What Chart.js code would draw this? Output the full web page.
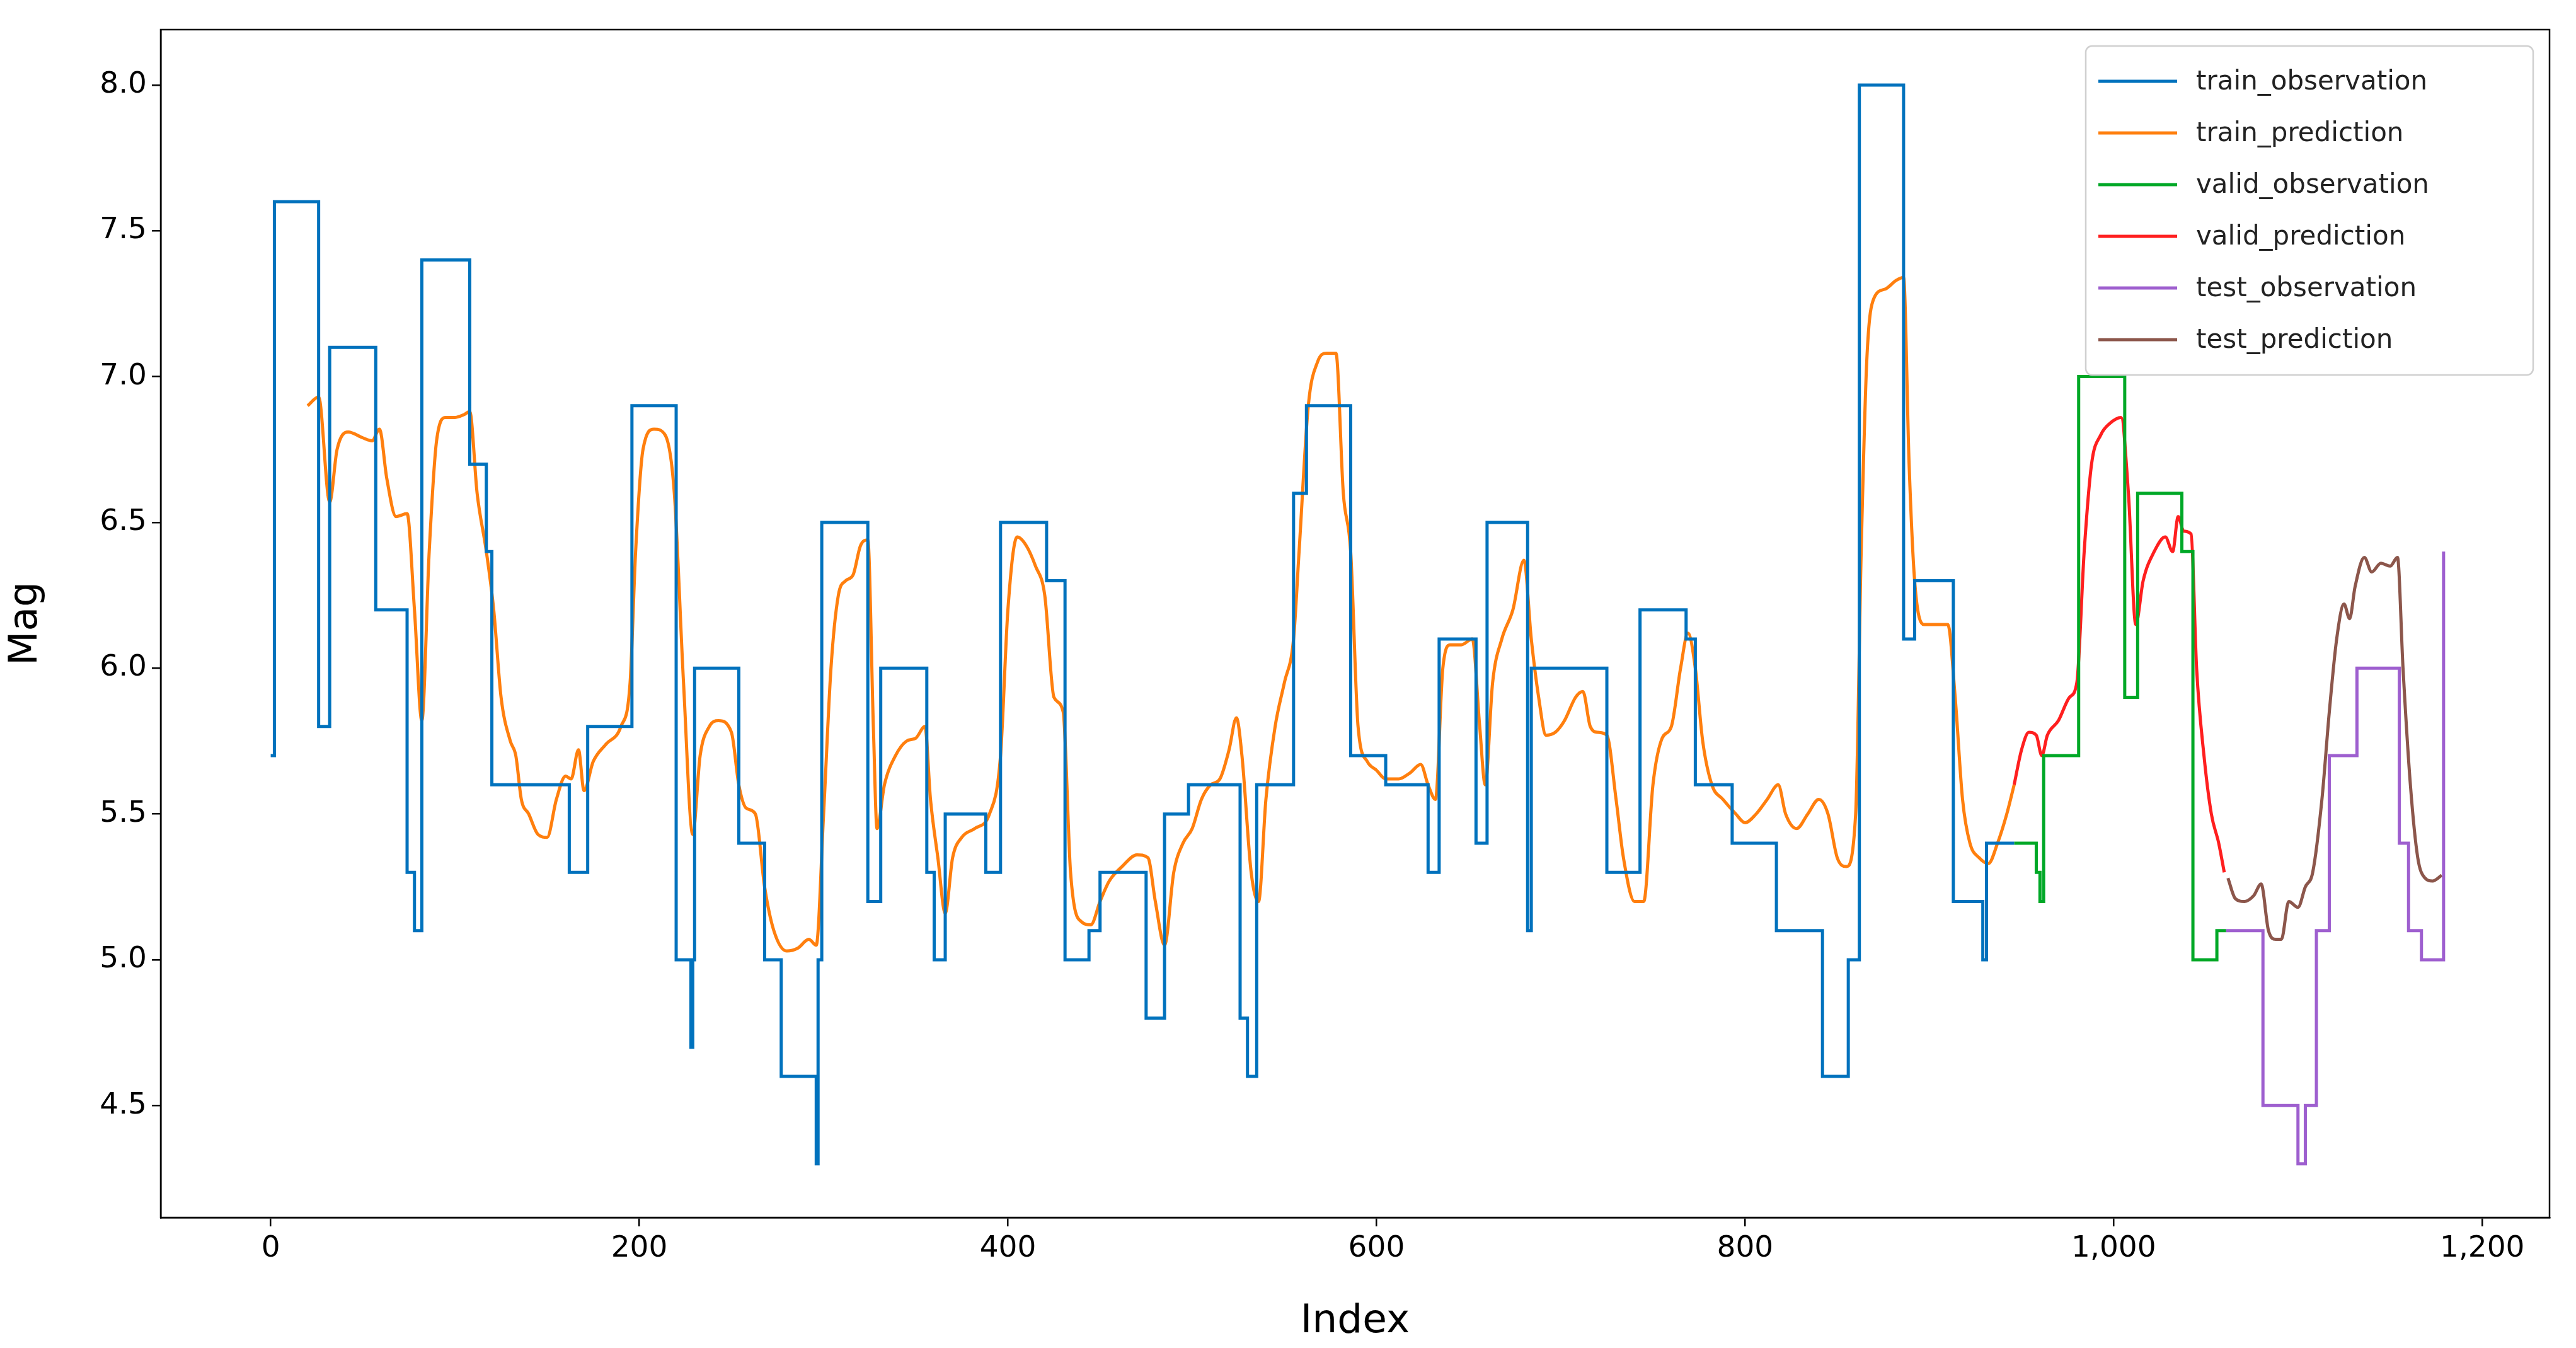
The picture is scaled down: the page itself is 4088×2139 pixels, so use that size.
<!DOCTYPE html>
<html>
<head>
<meta charset="utf-8">
<script src="https://cdn.jsdelivr.net/npm/chart.js@4.4.1/dist/chart.umd.min.js"></script>
<style>
  html, body { margin: 0; padding: 0; background: #fff; }
  canvas { display: block; }
</style>
</head>
<body>
<canvas id="magChart" width="4088" height="2139"></canvas>
<script>
// step changes: [index, value]
const trainObs = [[0,5.7],[2,7.6],[26,5.8],[32,7.1],[57,6.2],[74,5.3],[78,5.1],[82,7.4],[108,6.7],[117,6.4],[120,5.6],[162,5.3],[172,5.8],[196,6.9],[220,5.0],[228,4.7],[229,5.0],[230,6.0],[254,5.4],[268,5.0],[277,4.6],[296,4.3],[297,5.0],[299,6.5],[324,5.2],[331,6.0],[356,5.3],[360,5.0],[366,5.5],[388,5.3],[396,6.5],[421,6.3],[431,5.0],[444,5.1],[450,5.3],[475,4.8],[485,5.5],[498,5.6],[526,4.8],[530,4.6],[535,5.6],[555,6.6],[562,6.9],[586,5.7],[605,5.6],[628,5.3],[634,6.1],[654,5.4],[660,6.5],[682,5.1],[684,6.0],[725,5.3],[743,6.2],[768,6.1],[773,5.6],[793,5.4],[817,5.1],[842,4.6],[856,5.0],[862,8.0],[886,6.1],[892,6.3],[913,5.2],[929,5.0],[931,5.4],[946,5.4]];
const validObs = [[946,5.4],[958,5.3],[960,5.2],[962,5.7],[981,7.0],[1006,5.9],[1013,6.6],[1037,6.4],[1043,5.0],[1056,5.1],[1061,5.1]];
const testObs = [[1061,5.1],[1081,4.5],[1100,4.3],[1104,4.5],[1110,5.1],[1117,5.7],[1132,6.0],[1155,5.4],[1160,5.1],[1167,5.0],[1178,5.0],[1179,6.4]];

const trainPred = [[20,6.9],[26,6.93],[32,6.57],[36,6.75],[42,6.81],[50,6.79],[55,6.78],[59,6.82],[63,6.65],[68,6.52],[74,6.53],[78,6.2],[82,5.82],[86,6.4],[90,6.78],[95,6.86],[100,6.86],[105,6.87],[108,6.88],[112,6.6],[117,6.4],[121,6.2],[125,5.9],[130,5.75],[133,5.7],[136,5.55],[140,5.5],[145,5.43],[150,5.42],[155,5.55],[160,5.63],[163,5.62],[167,5.72],[170,5.58],[175,5.68],[182,5.74],[190,5.8],[195,5.95],[198,6.4],[202,6.75],[208,6.82],[214,6.8],[219,6.6],[224,5.95],[229,5.43],[233,5.7],[238,5.8],[243,5.82],[250,5.78],[254,5.6],[258,5.52],[263,5.5],[268,5.25],[273,5.1],[280,5.03],[286,5.04],[292,5.07],[296,5.05],[300,5.5],[304,6.0],[308,6.25],[312,6.3],[316,6.32],[320,6.42],[324,6.44],[327,5.8],[329,5.45],[333,5.6],[339,5.7],[345,5.75],[350,5.76],[355,5.8],[358,5.55],[362,5.35],[366,5.16],[370,5.35],[375,5.42],[382,5.45],[390,5.5],[396,5.7],[400,6.2],[405,6.45],[410,6.42],[415,6.35],[420,6.25],[425,5.9],[430,5.85],[434,5.3],[440,5.13],[445,5.12],[450,5.2],[455,5.27],[462,5.32],[470,5.36],[476,5.35],[480,5.2],[485,5.05],[490,5.3],[495,5.4],[500,5.45],[505,5.55],[510,5.6],[515,5.62],[520,5.72],[524,5.83],[527,5.7],[532,5.3],[536,5.2],[540,5.55],[545,5.8],[550,5.95],[555,6.1],[558,6.4],[563,6.9],[568,7.05],[573,7.08],[578,7.08],[582,6.6],[586,6.4],[590,5.8],[595,5.68],[600,5.65],[605,5.62],[612,5.62],[618,5.64],[624,5.67],[628,5.6],[632,5.55],[636,6.0],[640,6.08],[646,6.08],[652,6.1],[656,5.8],[659,5.6],[663,5.95],[668,6.1],[674,6.2],[680,6.37],[684,6.1],[688,5.9],[692,5.77],[697,5.78],[702,5.82],[708,5.9],[712,5.92],[716,5.8],[720,5.78],[725,5.77],[730,5.55],[734,5.35],[740,5.2],[745,5.2],[750,5.6],[755,5.76],[760,5.8],[765,6.0],[769,6.12],[773,6.0],[777,5.75],[782,5.6],[788,5.55],[795,5.5],[800,5.47],[806,5.5],[812,5.55],[818,5.6],[822,5.5],[828,5.45],[834,5.5],[840,5.55],[845,5.5],[850,5.35],[855,5.32],[860,5.5],[863,6.4],[866,7.05],[870,7.27],[876,7.3],[882,7.33],[886,7.34],[889,6.7],[892,6.3],[897,6.15],[903,6.15],[910,6.15],[914,5.9],[918,5.55],[922,5.4],[927,5.35],[932,5.33],[937,5.4],[942,5.5],[946,5.6]];
const validPred = [[946,5.6],[950,5.72],[954,5.78],[958,5.77],[961,5.7],[964,5.77],[970,5.82],[976,5.9],[980,5.95],[984,6.4],[988,6.7],[993,6.8],[998,6.84],[1004,6.86],[1008,6.6],[1012,6.15],[1016,6.3],[1022,6.4],[1028,6.45],[1032,6.4],[1035,6.52],[1038,6.47],[1042,6.46],[1045,6.0],[1049,5.7],[1053,5.5],[1057,5.4],[1060,5.3]];
const testPred = [[1062,5.28],[1066,5.21],[1071,5.2],[1076,5.22],[1080,5.26],[1084,5.1],[1088,5.07],[1091,5.07],[1095,5.2],[1100,5.18],[1104,5.25],[1108,5.3],[1113,5.55],[1117,5.85],[1121,6.1],[1125,6.22],[1128,6.17],[1131,6.28],[1136,6.38],[1140,6.33],[1145,6.36],[1150,6.35],[1154,6.38],[1157,6.0],[1161,5.6],[1165,5.35],[1169,5.28],[1173,5.27],[1178,5.29]];

const xTicks = [0, 200, 400, 600, 800, 1000, 1200];
const yTicks = [4.5, 5.0, 5.5, 6.0, 6.5, 7.0, 7.5, 8.0];

const seriesNames = ['train_observation', 'train_prediction', 'valid_observation', 'valid_prediction', 'test_observation', 'test_prediction'];
const seriesColors = ['#0072bd', '#ff7f0e', '#00a827', '#ff1f1f', '#9e5fcf', '#8c564b'];
const seriesData = [trainObs, trainPred, validObs, validPred, testObs, testPred];
const isStep = [true, false, true, false, true, false];

const font = 'DejaVu Sans';

const frame = {
    id: 'frame',
    afterDraw(chart) {
        const { ctx, chartArea: a } = chart;
        ctx.save();
        ctx.strokeStyle = '#000';
        ctx.lineWidth = 2.5;
        ctx.strokeRect(a.left, a.top, a.right - a.left, a.bottom - a.top);

        // legend box, upper right
        const rowH = 82, boxW = 710, boxH = rowH * 6 + 30;
        const bx = a.right - boxW - 26, by = a.top + 26;
        ctx.fillStyle = 'rgba(255,255,255,0.85)';
        ctx.strokeStyle = '#d0d0d0';
        ctx.lineWidth = 2.5;
        ctx.beginPath();
        ctx.roundRect(bx, by, boxW, boxH, 10);
        ctx.fill();
        ctx.stroke();
        ctx.font = `42px "${font}"`;
        ctx.textBaseline = 'middle';
        seriesNames.forEach((name, i) => {
            const y = by + 15 + rowH * (i + 0.5);
            ctx.strokeStyle = seriesColors[i];
            ctx.lineWidth = 5;
            ctx.beginPath();
            ctx.moveTo(bx + 20, y);
            ctx.lineTo(bx + 145, y);
            ctx.stroke();
            ctx.fillStyle = '#222';
            ctx.fillText(name, bx + 175, y + 2);
        });
        ctx.restore();
    }
};

new Chart(document.getElementById('magChart'), {
    type: 'line',
    data: {
        datasets: seriesNames.map((name, i) => ({
            label: name,
            data: seriesData[i].map(p => ({ x: p[0], y: p[1] })),
            borderColor: seriesColors[i],
            borderWidth: 5,
            pointRadius: 0,
            stepped: isStep[i] ? 'before' : false,
            tension: isStep[i] ? 0 : 0.4,
            cubicInterpolationMode: isStep[i] ? 'default' : 'monotone',
            fill: false
        }))
    },
    options: {
        responsive: false,
        devicePixelRatio: 1,
        animation: false,
        layout: { padding: { top: 47, right: 42, left: 0, bottom: 0 } },
        plugins: { legend: { display: false }, tooltip: { enabled: false } },
        scales: {
            x: {
                type: 'linear',
                min: -59.7,
                max: 1236.5,
                afterBuildTicks: s => { s.ticks = xTicks.map(v => ({ value: v })); },
                afterFit: s => { s.height = 207; },
                grid: { drawOnChartArea: false, drawTicks: true, tickLength: 14, color: '#000', lineWidth: 2.5 },
                border: { display: true, color: '#000', width: 2.5 },
                ticks: { color: '#000', font: { family: font, size: 47 }, padding: 8, maxRotation: 0 },
                title: { display: true, text: 'Index', color: '#000', font: { family: font, size: 63 }, padding: { top: 4 } }
            },
            y: {
                type: 'linear',
                min: 4.116,
                max: 8.19,
                afterBuildTicks: s => { s.ticks = yTicks.map(v => ({ value: v })); },
                afterFit: s => { s.width = 255; },
                grid: { drawOnChartArea: false, drawTicks: true, tickLength: 14, color: '#000', lineWidth: 2.5 },
                border: { display: true, color: '#000', width: 2.5 },
                ticks: { color: '#000', font: { family: font, size: 47 }, padding: 8, callback: v => v.toFixed(1) },
                title: { display: true, text: 'Mag', color: '#000', font: { family: font, size: 63 }, padding: { bottom: 8 } }
            }
        }
    },
    plugins: [frame]
});
</script>
</body>
</html>
